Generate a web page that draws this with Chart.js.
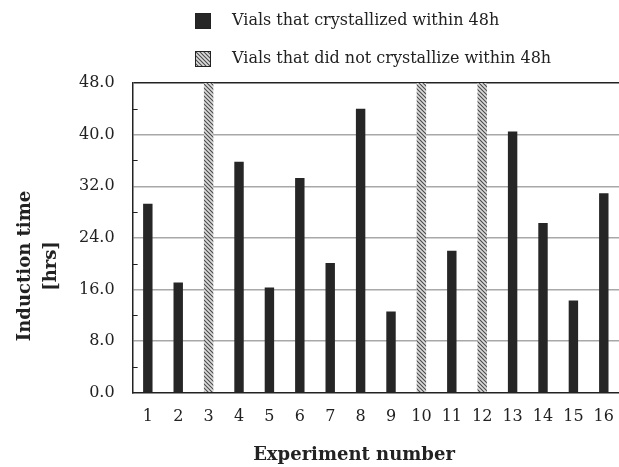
<!DOCTYPE html>
<html>
<head>
<meta charset="utf-8">
<script src="https://cdn.jsdelivr.net/npm/chart.js@4/dist/chart.umd.min.js"></script>
<style>
  html, body { margin: 0; padding: 0; background: #fff; }
</style>
</head>
<body>
<canvas id="chart_induction" width="619" height="467"></canvas>
<script>
// experiment numbers and induction times (hrs)
const experiments = ['1','2','3','4','5','6','7','8','9','10','11','12','13','14','15','16'];
const crystallized = [29.3, 17.1, null, 35.8, 16.3, 33.3, 20.1, 44.0, 12.6, null, 22.0, null, 40.5, 26.3, 14.3, 30.9];
const notCrystallized = [null, null, 48, null, null, null, null, null, null, 48, null, 48, null, null, null, null];
const legendLabels = ['Vials that crystallized within 48h', 'Vials that did not crystallize within 48h'];
const yTitle = ['Induction time', '[hrs]'];
const xTitle = 'Experiment number';

const serif = '"DejaVu Serif", serif';

// hatch pattern for the vials that never crystallized
function makeHatch() {
    var c = document.createElement('canvas');
    c.width = 4; c.height = 4;
    var g = c.getContext('2d');
    g.fillStyle = '#dcdcdc';
    g.fillRect(0, 0, 4, 4);
    g.strokeStyle = '#4a4a4a';
    g.lineWidth = 1.1;
    g.beginPath();
    g.moveTo(-1, -1); g.lineTo(5, 5);
    g.moveTo(-1, 3); g.lineTo(1, 5);
    g.moveTo(3, -1); g.lineTo(5, 1);
    g.stroke();
    return g.createPattern(c, 'repeat');
}
const hatch = makeHatch();

// legend, axis titles and the small inner ticks
const extras = {
    id: 'extras',
    afterDraw(chart) {
        var ctx = chart.ctx;
        var y = chart.scales.y;
        var area = chart.chartArea;
        ctx.save();

        // minor inner ticks
        ctx.strokeStyle = '#222';
        ctx.lineWidth = 1;
        for (var v = 4; v < 48; v += 8) {
            var py = Math.round(y.getPixelForValue(v)) + 0.5;
            ctx.beginPath();
            ctx.moveTo(area.left, py);
            ctx.lineTo(area.left + 5, py);
            ctx.stroke();
        }

        // legend
        var rows = [21, 59];
        var fills = ['#262626', hatch];
        ctx.font = '16px ' + serif;
        ctx.textBaseline = 'middle';
        ctx.textAlign = 'left';
        for (var i = 0; i < 2; i++) {
            ctx.fillStyle = fills[i];
            ctx.fillRect(195, rows[i] - 8, 16, 16);
            ctx.strokeStyle = '#222';
            ctx.strokeRect(195.5, rows[i] - 7.5, 15, 15);
            ctx.fillStyle = '#222';
            ctx.fillText(legendLabels[i], 232, rows[i]);
        }

        // axis titles
        ctx.font = 'bold 18px ' + serif;
        ctx.textAlign = 'center';
        ctx.fillText(xTitle, 354, 455);
        ctx.translate(25, 266);
        ctx.rotate(-Math.PI / 2);
        ctx.fillText(yTitle[0], 0, 0);
        ctx.fillText(yTitle[1], 0, 26);
        ctx.restore();
    }
};

var ctx_ind = document.getElementById('chart_induction');

const chart_ind = new Chart(ctx_ind, {
    type: 'bar',
    data: {
        labels: experiments,
        datasets: [
            {
                label: legendLabels[0],
                data: crystallized,
                backgroundColor: '#262626',
                borderWidth: 0,
                grouped: false,
                barPercentage: 0.31,
                categoryPercentage: 1.0
            },
            {
                label: legendLabels[1],
                data: notCrystallized,
                backgroundColor: hatch,
                borderWidth: 0,
                grouped: false,
                barPercentage: 0.31,
                categoryPercentage: 1.0
            }
        ]
    },
    options: {
        responsive: false,
        animation: false,
        layout: {
            padding: { top: 83, left: 61, right: 0, bottom: 27 }
        },
        plugins: {
            legend: { display: false },
            tooltip: { enabled: false }
        },
        scales: {
            x: {
                offset: true,
                grid: { display: false, drawTicks: false },
                border: { color: '#222', width: 1.5 },
                ticks: {
                    padding: 14,
                    color: '#222',
                    font: { family: serif, size: 16 }
                },
                afterFit: function(scale) {
                    // plot runs to the right edge of the picture
                    scale.paddingRight = 0;
                    scale.paddingLeft = 0;
                }
            },
            y: {
                min: 0,
                max: 48,
                grid: {
                    drawTicks: false,
                    lineWidth: 1.5,
                    color: function(c) {
                        var v = c.tick.value;
                        if (v === 48) return '#222';
                        if (v > 0 && v % 8 === 0) return '#a8a8a8';
                        return 'rgba(0,0,0,0)';
                    }
                },
                border: { color: '#222', width: 1.5 },
                ticks: {
                    stepSize: 4,
                    padding: 18,
                    color: '#222',
                    autoSkip: false,
                    font: { family: serif, size: 16 },
                    callback: function(value) {
                        return value % 8 === 0 ? value.toFixed(1) : '';
                    }
                }
            }
        }
    },
    plugins: [extras]
});
</script>
</body>
</html>
